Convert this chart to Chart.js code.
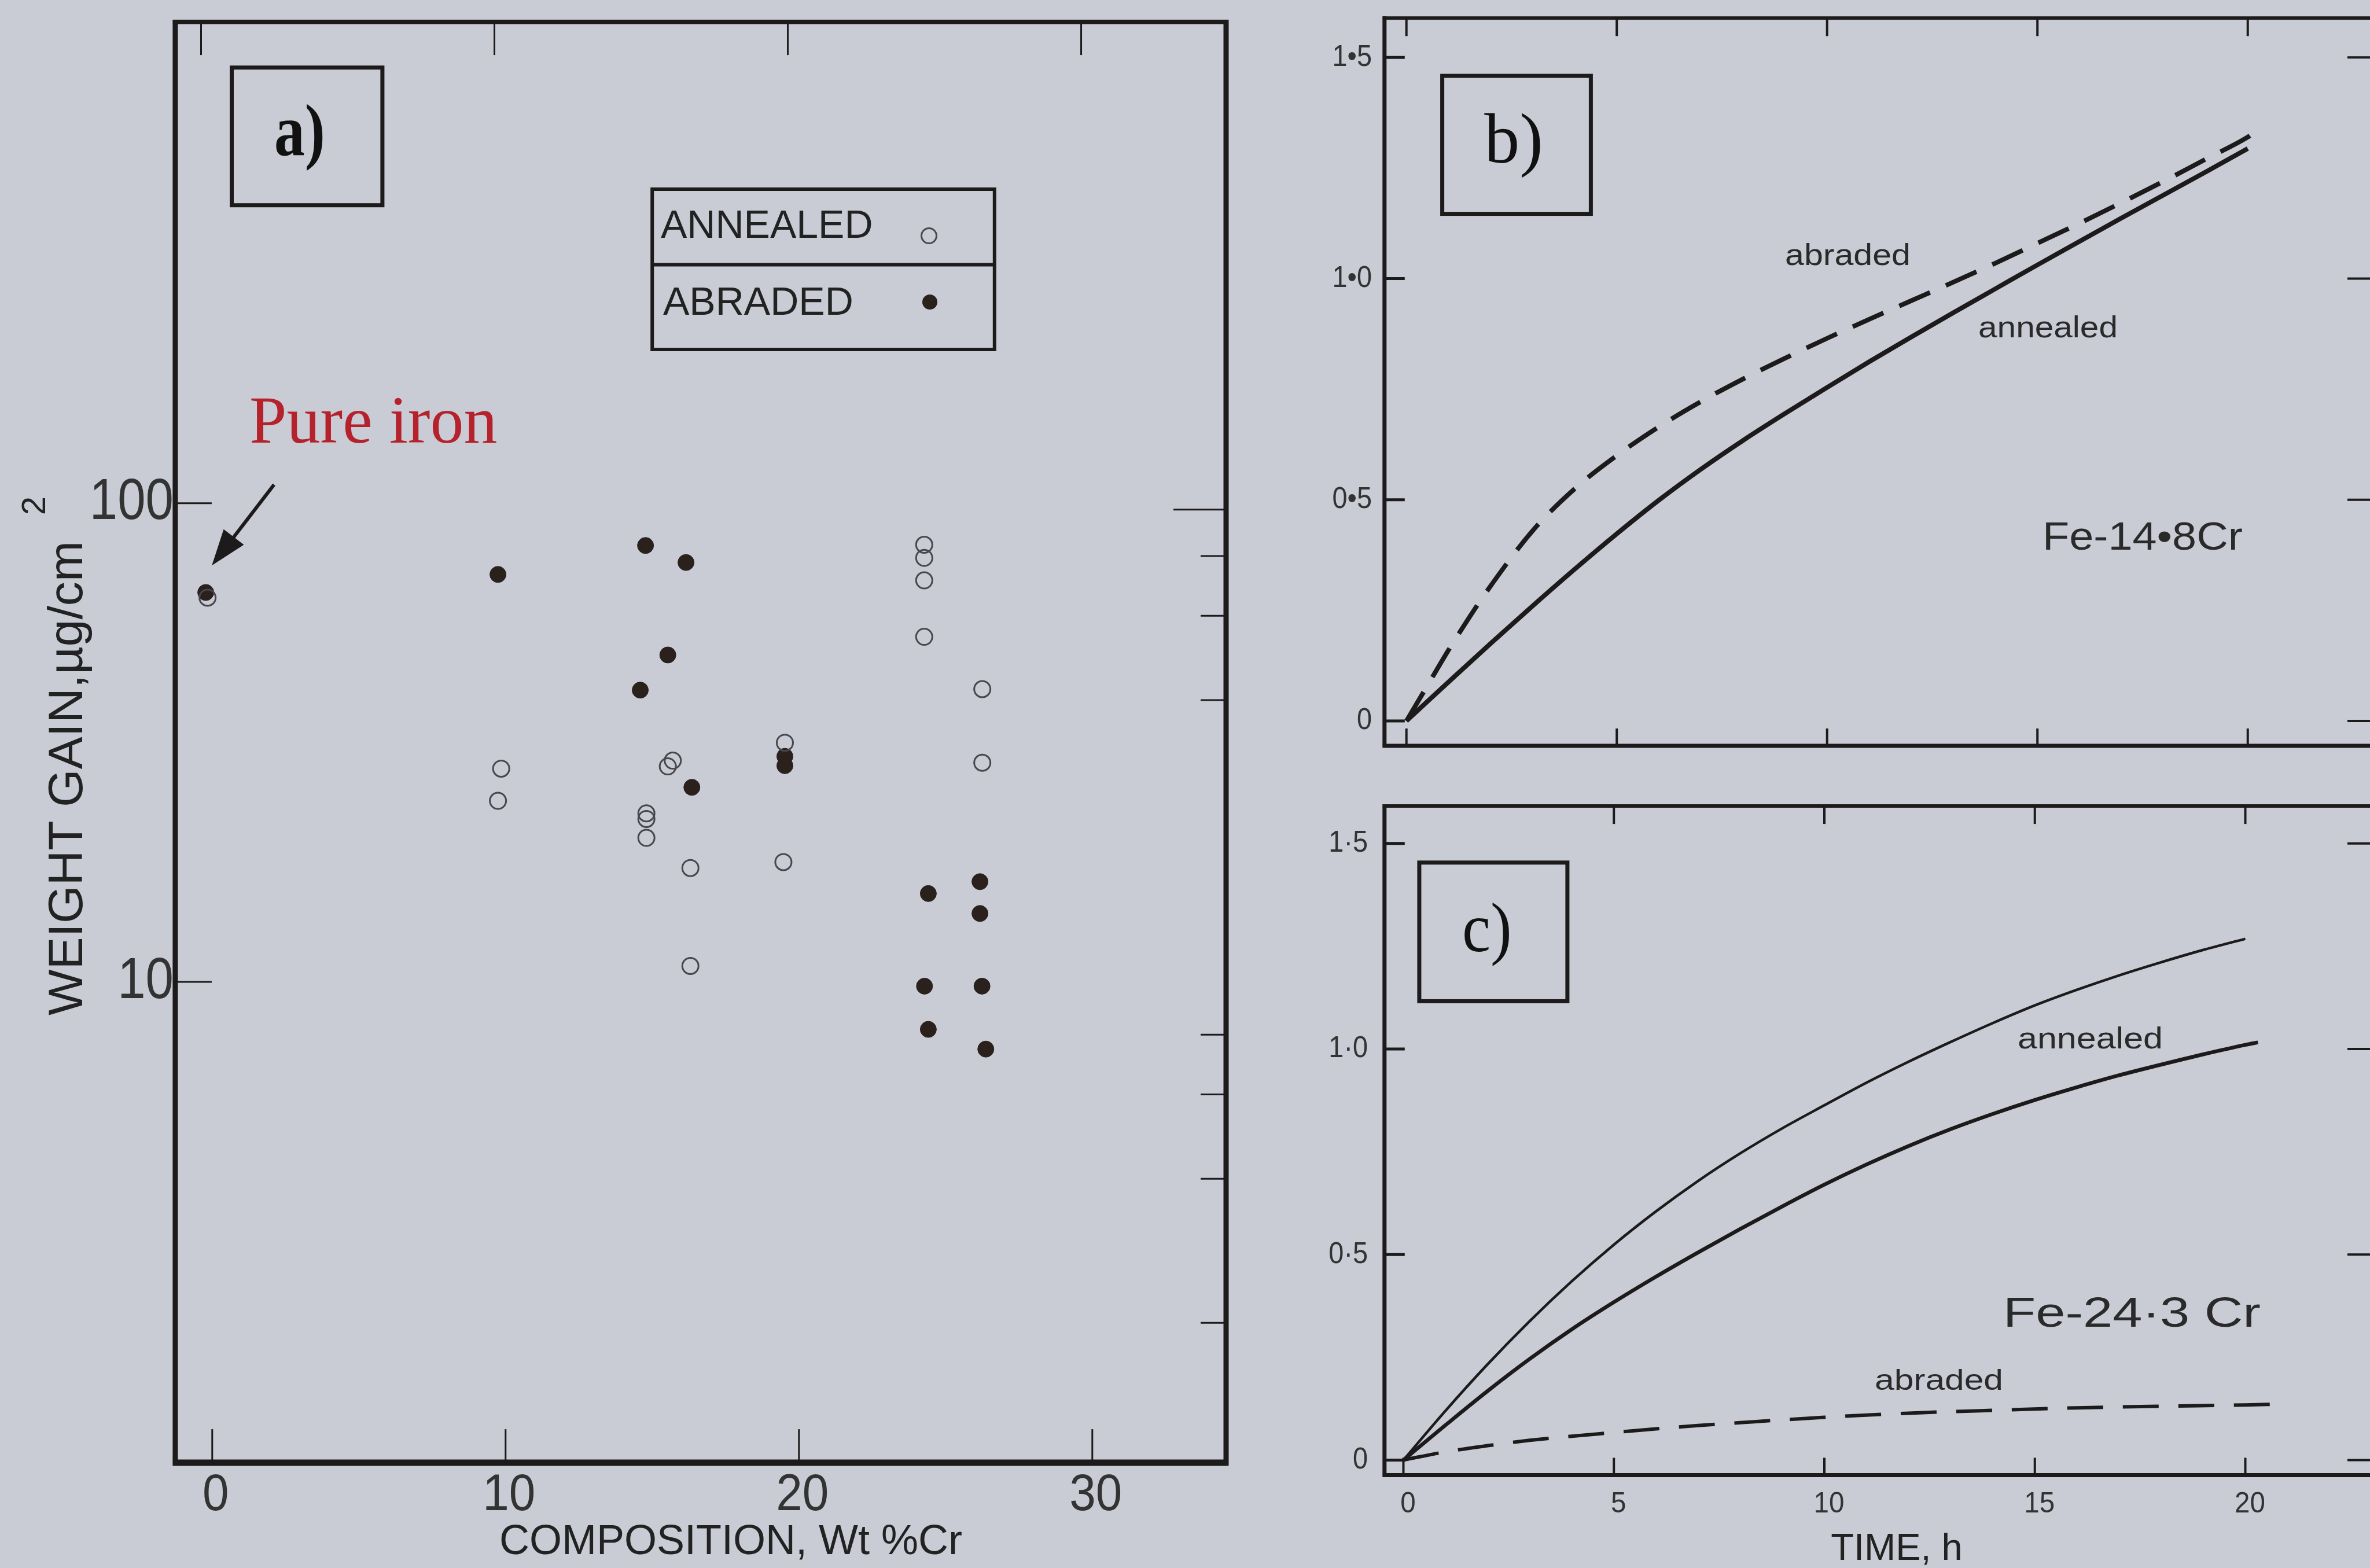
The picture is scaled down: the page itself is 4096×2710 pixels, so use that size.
<!DOCTYPE html>
<html>
<head>
<meta charset="utf-8">
<script src="https://cdn.jsdelivr.net/npm/chart.js@4.4.1/dist/chart.umd.min.js"></script>
<style>
html, body { margin: 0; padding: 0; background: #c9cbd5; }
#wrap { position: relative; width: 4096px; height: 2710px; overflow: hidden; }
canvas { position: absolute; left: 0; top: 0; }
</style>
</head>
<body>
<div id="wrap">
<canvas id="chartA" width="4096" height="2710"></canvas>
<canvas id="chartB" width="4096" height="2710"></canvas>
<canvas id="chartC" width="4096" height="2710"></canvas>
</div>
<script>
// a) weight gain vs composition
const annealedComp = [-0.16, 9.85, 9.74, 14.8, 14.8, 14.8, 15.7, 15.53, 16.3, 16.3, 19.52, 19.47, 24.27, 24.27, 24.27, 24.27, 26.25, 26.25];
const annealedGain = [63.5, 27.9, 23.9, 22.5, 21.9, 20.0, 29.0, 28.2, 17.3, 10.8, 31.6, 17.8, 81.9, 76.9, 69.0, 52.6, 40.9, 28.7];
const abradedComp = [-0.22, 9.74, 14.77, 16.15, 15.53, 14.59, 16.35, 19.52, 19.52, 26.17, 24.41, 26.17, 24.28, 26.24, 24.41, 26.37];
const abradedGain = [65.1, 71.0, 81.6, 75.2, 48.2, 40.7, 25.5, 29.6, 28.3, 16.2, 15.3, 13.9, 9.8, 9.8, 7.96, 7.24];
const compTicks = [0, 10, 20, 30];
const compTickLabels = ['0', '10', '20', '30'];
const gainTicks = [10, 100];
const gainTickLabels = ['10', '100'];
const gainRightTicks = [100, 80, 60, 40, 8, 6, 4, 2];

// b) Fe-14.8Cr
const timeB = [0, 1, 2, 3, 4, 5, 6, 7, 8, 9, 10, 11, 12, 13, 14, 15, 16, 17, 18, 19, 20];
const annealedB = [0, 0.088, 0.175, 0.26, 0.343, 0.423, 0.499, 0.569, 0.634, 0.695, 0.754, 0.812, 0.868, 0.923, 0.977, 1.031, 1.084, 1.137, 1.189, 1.241, 1.294];
const timeBAbr = [0, 0.5, 1, 1.5, 2, 3, 4, 5, 6, 7, 8, 9, 10, 11, 12, 13, 14, 15, 16, 17, 18, 19, 20, 20.12];
const abradedB = [0, 0.08, 0.16, 0.235, 0.305, 0.43, 0.525, 0.60, 0.665, 0.722, 0.773, 0.82, 0.865, 0.908, 0.95, 0.992, 1.035, 1.08, 1.125, 1.172, 1.22, 1.27, 1.32, 1.328];

// c) Fe-24.3Cr
const timeC1 = [0, 1, 2, 3, 4, 5, 6, 7, 8, 9, 10, 11, 12, 13, 14, 15, 16, 17, 18, 19, 20];
const annealedC1 = [0, 0.12, 0.233, 0.338, 0.435, 0.524, 0.605, 0.679, 0.746, 0.807, 0.863, 0.918, 0.969, 1.017, 1.063, 1.106, 1.144, 1.179, 1.211, 1.241, 1.268];
const timeC2 = [0, 1, 2, 3, 4, 5, 6, 7, 8, 9, 10, 11, 12, 13, 14, 15, 16, 17, 18, 19, 20, 20.3];
const annealedC2 = [0, 0.085, 0.168, 0.246, 0.318, 0.384, 0.446, 0.505, 0.562, 0.617, 0.67, 0.719, 0.764, 0.805, 0.842, 0.876, 0.907, 0.936, 0.962, 0.987, 1.01, 1.016];
const timeC3 = [0, 1, 2, 3, 4, 5, 6, 7, 8, 10, 12, 14, 16, 18, 20, 20.8];
const abradedC = [0, 0.02, 0.035, 0.048, 0.058, 0.067, 0.076, 0.084, 0.091, 0.104, 0.114, 0.121, 0.127, 0.131, 0.134, 0.136];

const timeTicks = [0, 5, 10, 15, 20];
const timeTickLabels = ['0', '5', '10', '15', '20'];
const timeTopTicksC = [5, 10, 15, 20];
const wgTicks = [0, 0.5, 1.0, 1.5];
const wgLabelsB = ['0', '0•5', '1•0', '1•5'];
const wgLabelsC = ['0', '0·5', '1·0', '1·5'];

const ink = '#1c1a1a';
const sans = '"Liberation Sans", Arial, sans-serif';
const serif = '"Liberation Serif", "Times New Roman", serif';

const pts = (xs, ys) => xs.map((x, i) => ({x: x, y: ys[i]}));

function line(ctx, x1, y1, x2, y2, w) {
  ctx.beginPath();
  ctx.moveTo(x1, y1);
  ctx.lineTo(x2, y2);
  ctx.lineWidth = w;
  ctx.strokeStyle = ink;
  ctx.stroke();
}

function label(ctx, str, x, y, o) {
  ctx.save();
  ctx.font = o.font;
  ctx.fillStyle = o.color || '#222';
  ctx.textAlign = o.align || 'left';
  ctx.textBaseline = o.base || 'alphabetic';
  ctx.translate(x, y);
  if (o.rot) ctx.rotate(o.rot);
  let sx = o.sx || 1;
  if (o.w) sx = o.w / ctx.measureText(str).width;
  ctx.scale(sx, 1);
  ctx.fillText(str, 0, 0);
  ctx.restore();
}

function box(ctx, x1, y1, x2, y2, w) {
  ctx.lineWidth = w;
  ctx.strokeStyle = ink;
  ctx.strokeRect(x1, y1, x2 - x1, y2 - y1);
}

const panelA = {
  id: 'panelA',
  afterDraw(chart) {
    const ctx = chart.ctx, a = chart.chartArea, s = chart.scales;
    ctx.save();
    // frame
    line(ctx, a.left, a.top - 4, a.left, a.bottom + 5, 9);
    line(ctx, a.left - 4, a.bottom, a.right + 4, a.bottom, 11);
    line(ctx, a.right, a.top - 4, a.right, a.bottom + 5, 9);
    line(ctx, a.left - 4, a.top, a.right + 4, a.top, 8);
    // inward ticks
    compTicks.forEach(v => {
      const x = s.x.getPixelForValue(v);
      line(ctx, x, a.bottom, x, a.bottom - 58, 3);
      const x2 = s.x2.getPixelForValue(v);
      line(ctx, x2, a.top, x2, a.top + 57, 3);
    });
    gainTicks.forEach(v => {
      const y = s.y.getPixelForValue(v);
      line(ctx, a.left, y, a.left + 63, y, 3);
    });
    gainRightTicks.forEach(v => {
      const y = s.y2.getPixelForValue(v);
      line(ctx, a.right, y, a.right - (v === 100 ? 91 : 44), y, 3);
    });
    // tick labels
    gainTicks.forEach((v, i) => {
      label(ctx, gainTickLabels[i], a.left - 3, s.y.getPixelForValue(v), {font: '100px ' + sans, align: 'right', base: 'middle', sx: 0.87, color: '#333'});
    });
    compTicks.forEach((v, i) => {
      label(ctx, compTickLabels[i], s.x.getPixelForValue(v) + 6, 2610, {font: '89px ' + sans, align: 'center', sx: 0.92, color: '#333'});
    });
    // axis titles
    label(ctx, 'COMPOSITION, Wt %Cr', 1263, 2686, {font: '72px ' + sans, align: 'center', color: '#222'});
    label(ctx, 'WEIGHT GAIN,µg/cm', 141.8, 1345, {font: '84px ' + sans, align: 'center', rot: -Math.PI / 2, w: 820, color: '#222'});
    label(ctx, '2', 62, 874, {font: '58px ' + sans, align: 'center', base: 'middle', rot: -Math.PI / 2, color: '#222'});
    // panel tag
    box(ctx, 400.5, 116.8, 660.9, 354.7, 7);
    label(ctx, 'a)', 518, 267.6, {font: 'bold 127px ' + serif, align: 'center', sx: 0.83, color: '#111'});
    // legend
    ctx.lineWidth = 6;
    ctx.strokeStyle = ink;
    ctx.strokeRect(1127.2, 327, 591.6, 277);
    line(ctx, 1127.2, 457.4, 1718.8, 457.4, 6);
    const ds = chart.data.datasets;
    label(ctx, ds[0].label, 1142, 411, {font: '68px ' + sans, color: '#222'});
    label(ctx, ds[1].label, 1146, 544, {font: '68px ' + sans, color: '#222'});
    ctx.beginPath();
    ctx.arc(1605.5, 407.5, 13, 0, Math.PI * 2);
    ctx.lineWidth = 3;
    ctx.strokeStyle = ds[0].pointBorderColor;
    ctx.stroke();
    ctx.beginPath();
    ctx.arc(1607, 522, 13, 0, Math.PI * 2);
    ctx.fillStyle = ds[1].pointBackgroundColor;
    ctx.fill();
    // pure iron note and arrow
    label(ctx, 'Pure iron', 431, 765, {font: '116px ' + serif, color: '#b5222c'});
    const x1 = 473.6, y1 = 837.7, x2 = 366.2, y2 = 977.3;
    const ang = Math.atan2(y2 - y1, x2 - x1);
    line(ctx, x1, y1, x2 - 40 * Math.cos(ang), y2 - 40 * Math.sin(ang), 6);
    ctx.beginPath();
    ctx.moveTo(x2, y2);
    ctx.lineTo(x2 - 62 * Math.cos(ang) + 22 * Math.sin(ang), y2 - 62 * Math.sin(ang) - 22 * Math.cos(ang));
    ctx.lineTo(x2 - 62 * Math.cos(ang) - 22 * Math.sin(ang), y2 - 62 * Math.sin(ang) + 22 * Math.cos(ang));
    ctx.closePath();
    ctx.fillStyle = ink;
    ctx.fill();
    ctx.restore();
  }
};

function timePanel(cfg) {
  return {
    id: cfg.id,
    afterDraw(chart) {
      const ctx = chart.ctx, a = chart.chartArea, s = chart.scales;
      // right border sits just past the window edge
      const right = a.right + 8;
      ctx.save();
      line(ctx, a.left, a.top - 3, a.left, a.bottom + 3, 7);
      line(ctx, a.left - 3, a.bottom, right, a.bottom, 7);
      line(ctx, a.left - 3, a.top, right, a.top, 6);
      wgTicks.forEach((v, i) => {
        const y = s.y.getPixelForValue(v);
        line(ctx, a.left, y, a.left + 35, y, 5);
        line(ctx, right, y, right - 47, y, 4);
        label(ctx, cfg.yLabels[i], cfg.yLabelX, y, {font: '52px ' + sans, align: 'right', base: 'middle', sx: 0.9, color: '#333'});
      });
      timeTicks.forEach(v => {
        const x = s.x.getPixelForValue(v);
        line(ctx, x, a.bottom, x, a.bottom - 30, 4);
      });
      cfg.topTicks.forEach(v => {
        const x = s.x.getPixelForValue(v);
        line(ctx, x, a.top, x, a.top + 31, 4);
      });
      if (cfg.xLabels) {
        timeTicks.forEach((v, i) => {
          label(ctx, timeTickLabels[i], s.x.getPixelForValue(v) + 8, 2614, {font: '50px ' + sans, align: 'center', sx: 0.95, color: '#333'});
        });
        label(ctx, 'TIME, h', 3278, 2696, {font: '65px ' + sans, align: 'center', color: '#222'});
      }
      box(ctx, cfg.tag[0], cfg.tag[1], cfg.tag[2], cfg.tag[3], 7);
      label(ctx, cfg.tagText, cfg.tagPos[0], cfg.tagPos[1], {font: cfg.tagFont, align: 'center', sx: cfg.tagSx, color: '#111'});
      cfg.notes.forEach(n => {
        label(ctx, n[0], n[1], n[2], {font: n[3] + 'px ' + sans, w: n[4], color: '#2a2a2a'});
      });
      ctx.restore();
    }
  };
}

const baseOpts = (pad, xr, yr) => ({
  responsive: false,
  animation: false,
  devicePixelRatio: 1,
  events: [],
  layout: { padding: pad },
  plugins: { legend: { display: false }, tooltip: { enabled: false } },
  scales: {
    x: { type: 'linear', display: false, min: xr[0], max: xr[1] },
    y: { type: 'linear', display: false, min: yr[0], max: yr[1] }
  }
});

// a)
const optsA = baseOpts({ left: 302.9, top: 38.1, right: 4096 - 2119, bottom: 2710 - 2528.1 }, [-1.26, 34.56], [0.99, 1012]);
optsA.scales.y.type = 'logarithmic';
optsA.scales.x2 = { type: 'linear', position: 'top', display: false, min: -0.88, max: 34.94 };
optsA.scales.y2 = { type: 'logarithmic', position: 'right', display: false, min: 1.0206, max: 1043.3 };

new Chart(document.getElementById('chartA'), {
  type: 'scatter',
  data: {
    datasets: [{
      label: 'ANNEALED',
      data: pts(annealedComp, annealedGain),
      pointRadius: 14,
      pointBackgroundColor: 'rgba(0,0,0,0)',
      pointBorderColor: '#47474c',
      pointBorderWidth: 3
    }, {
      label: 'ABRADED',
      data: pts(abradedComp, abradedGain),
      pointRadius: 14,
      pointBackgroundColor: '#2a211d',
      pointBorderColor: '#2a211d',
      pointBorderWidth: 1
    }]
  },
  options: optsA,
  plugins: [panelA]
});

// b)
new Chart(document.getElementById('chartB'), {
  type: 'scatter',
  data: {
    datasets: [{
      label: 'annealed',
      data: pts(timeB, annealedB),
      showLine: true,
      pointRadius: 0,
      borderColor: ink,
      borderWidth: 8,
      cubicInterpolationMode: 'monotone'
    }, {
      label: 'abraded',
      data: pts(timeBAbr, abradedB),
      showLine: true,
      pointRadius: 0,
      borderColor: ink,
      borderWidth: 8,
      borderDash: [58, 30],
      cubicInterpolationMode: 'monotone'
    }]
  },
  options: baseOpts({ left: 2392.8, top: 31.3, right: 0, bottom: 2710 - 1289.1 }, [-0.521, 22.906], [-0.0564, 1.589]),
  plugins: [timePanel({
    id: 'panelB',
    yLabels: wgLabelsB,
    yLabelX: 2371,
    topTicks: timeTicks,
    xLabels: false,
    tag: [2492.6, 131.1, 2749.4, 369.6],
    tagText: 'b)',
    tagPos: [2616, 280.6],
    tagFont: '122px ' + serif,
    tagSx: 1,
    notes: [
      ['abraded', 3085, 457.7, 52, 217],
      ['annealed', 3419, 582.8, 52, 241],
      ['Fe-14•8Cr', 3530, 949.8, 68, 346]
    ]
  })]
});

// c)
new Chart(document.getElementById('chartC'), {
  type: 'scatter',
  data: {
    datasets: [{
      label: 'annealed',
      data: pts(timeC1, annealedC1),
      showLine: true,
      pointRadius: 0,
      borderColor: ink,
      borderWidth: 4.5,
      cubicInterpolationMode: 'monotone'
    }, {
      label: 'annealed',
      data: pts(timeC2, annealedC2),
      showLine: true,
      pointRadius: 0,
      borderColor: ink,
      borderWidth: 6.5,
      cubicInterpolationMode: 'monotone'
    }, {
      label: 'abraded',
      data: pts(timeC3, abradedC),
      showLine: true,
      pointRadius: 0,
      borderColor: ink,
      borderWidth: 6,
      borderDash: [62, 34],
      cubicInterpolationMode: 'monotone'
    }]
  },
  options: baseOpts({ left: 2392.8, top: 1393.1, right: 0, bottom: 2710 - 2549.5 }, [-0.449, 22.962], [-0.0367, 1.591]),
  plugins: [timePanel({
    id: 'panelC',
    yLabels: wgLabelsC,
    yLabelX: 2364,
    topTicks: timeTopTicksC,
    xLabels: true,
    tag: [2452.9, 1490.8, 2708.9, 1730.4],
    tagText: 'c)',
    tagPos: [2570, 1644],
    tagFont: '120px ' + serif,
    tagSx: 0.92,
    notes: [
      ['annealed', 3487, 1812, 52, 251],
      ['Fe-24·3 Cr', 3462, 2292.5, 72, 445],
      ['abraded', 3240, 2402, 50, 222]
    ]
  })]
});
</script>
</body>
</html>
